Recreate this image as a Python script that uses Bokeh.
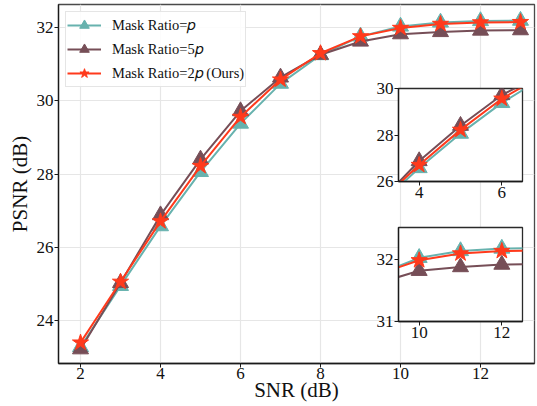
from bokeh.plotting import figure
from bokeh.layouts import column
from bokeh.models import Range1d, FixedTicker
from bokeh.embed import file_html
from bokeh.resources import INLINE

# ---- data ----
snr = [2, 3, 4, 5, 6, 7, 8, 9, 10, 11, 12, 13]
psnr_p = [23.28, 24.95, 26.58, 28.06, 29.38, 30.47, 31.25, 31.76, 32.03, 32.14, 32.18, 32.19]
psnr_5p = [23.22, 25.03, 26.88, 28.40, 29.72, 30.64, 31.26, 31.62, 31.82, 31.88, 31.92, 31.93]
psnr_2p = [23.40, 25.06, 26.71, 28.22, 29.56, 30.58, 31.30, 31.76, 31.99, 32.10, 32.14, 32.15]

labels = ["Mask Ratio=\U0001D45D", "Mask Ratio=5\U0001D45D", "Mask Ratio=2\U0001D45D (Ours)"]

main_xticks = [2, 4, 6, 8, 10, 12]
main_yticks = [24, 26, 28, 30, 32]
inset1_xticks = [4, 6]
inset1_yticks = [26, 28, 30]
inset2_xticks = [10, 12]
inset2_yticks = [31, 32]

colors = ["#67b2ae", "#764e57", "#ff3a1c"]
markers = ["triangle", "triangle", "star"]
msizes = [16, 16, 17]
series = [psnr_p, psnr_5p, psnr_2p]

FONT = "Liberation Serif"
LEFT = 58   # shared left border (Bokeh aligns borders of stacked plots)
RIGHT = 2   # shared right border


def style_axes(fig, xt, yt, tick_size="17px"):
    fig.xaxis.ticker = FixedTicker(ticks=xt)
    fig.yaxis.ticker = FixedTicker(ticks=yt)
    for ax in (fig.xaxis, fig.yaxis):
        ax.major_label_text_font = FONT
        ax.major_label_text_font_size = tick_size
        ax.major_label_text_color = "#111111"
        ax.major_label_standoff = 1
        ax.major_tick_out = 4
        ax.major_tick_in = 0
        ax.minor_tick_line_color = None
        ax.axis_line_color = "#1a1a1a"
        ax.axis_line_width = 1.3
        ax.major_tick_line_color = "#1a1a1a"
        ax.major_tick_line_width = 1.0
        ax.axis_label_text_font = FONT
        ax.axis_label_text_font_style = "normal"
        ax.axis_label_text_color = "#111111"
    fig.outline_line_color = "#4a4a4a"
    fig.outline_line_width = 1.3
    fig.outline_line_alpha = 1.0


def draw(fig, with_legend):
    for ys, c, m, s, lab in zip(series, colors, markers, msizes, labels):
        kw = {"legend_label": lab} if with_legend else {}
        fig.line(snr, ys, line_color=c, line_width=2, **kw)
        fig.scatter(snr, ys, marker=m, size=s, fill_color=c, line_color=c, **kw)


# ---- main figure (frame 58..534 x 4..363) ----
p = figure(frame_width=476, frame_height=359,
           x_range=Range1d(1.45, 13.35), y_range=Range1d(22.83, 32.63),
           output_backend="svg", toolbar_location=None,
           min_border_left=LEFT, min_border_right=RIGHT, min_border_top=4, min_border_bottom=42)
style_axes(p, main_xticks, main_yticks)
p.xaxis.axis_label = "SNR (dB)"
p.yaxis.axis_label = "PSNR (dB)"
p.xaxis.axis_label_text_font_size = "21px"
p.yaxis.axis_label_text_font_size = "21px"
p.xaxis.major_label_standoff = 0
p.xaxis.axis_label_standoff = -4
p.yaxis.axis_label_standoff = 2
p.grid.grid_line_color = "#e6e6e6"
p.grid.grid_line_width = 1.2
draw(p, True)

lg = p.legend[0]
lg.location = "top_left"
lg.margin = 7
lg.padding = 1
lg.spacing = -3
lg.label_standoff = 11
lg.glyph_width = 34
lg.glyph_height = 24
lg.label_height = 16
lg.label_text_font = FONT
lg.label_text_font_size = "14.5px"
lg.label_text_color = "#111111"
lg.border_line_color = "#cccccc"
lg.border_line_width = 1
lg.background_fill_alpha = 0.85


# ---- insets ----
def make_inset(xr, yr, xt, yt, fh, margin):
    f = figure(frame_width=124, frame_height=fh, x_range=Range1d(*xr), y_range=Range1d(*yr),
               output_backend="svg", toolbar_location=None,
               min_border_left=LEFT, min_border_right=RIGHT, min_border_top=10, min_border_bottom=26,
               margin=margin)
    f.border_fill_alpha = 0
    f.background_fill_color = "white"
    f.grid.grid_line_color = None
    style_axes(f, xt, yt)
    f.outline_line_color = "#2a2a2a"
    draw(f, False)
    return f


# inset1 frame at (398, 88) 124x93 ; inset2 frame at (398, 227) 124x94
inset1 = make_inset((3.5, 6.5), (26, 30), inset1_xticks, inset1_yticks, 93, (-327, 0, 0, 398 - LEFT))
inset2 = make_inset((9.5, 12.5), (31, 32.52), inset2_xticks, inset2_yticks, 94, (10, 0, 58, 398 - LEFT))

layout = column(p, inset1, inset2, spacing=0)

open("out.html", "w").write(file_html(layout, INLINE))
